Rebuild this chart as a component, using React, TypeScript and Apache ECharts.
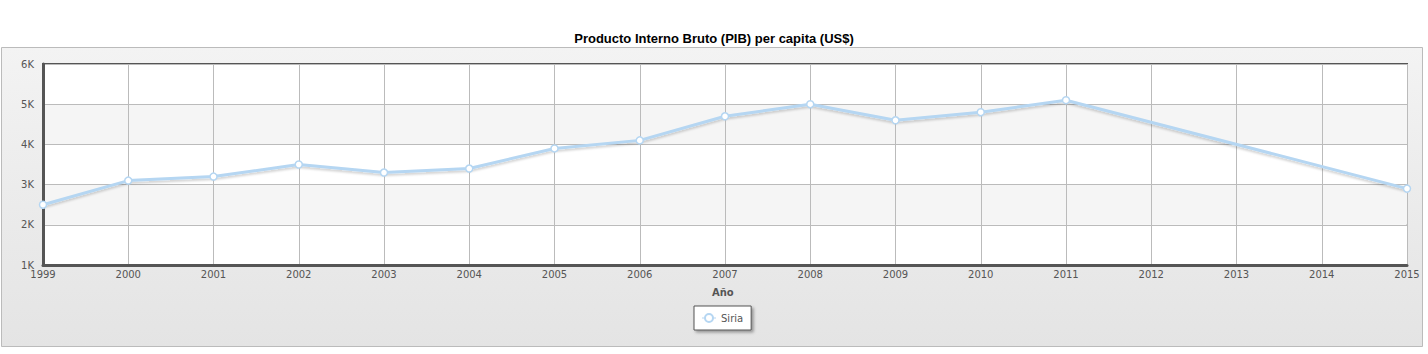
import React, { useEffect, useRef } from "react";
import * as echarts from "echarts";

const years = ["1999","2000","2001","2002","2003","2004","2005","2006","2007","2008","2009","2010","2011","2012","2013","2014","2015"];
const siria: (number | null)[] = [2500, 3100, 3200, 3500, 3300, 3400, 3900, 4100, 4700, 5000, 4600, 4800, 5100, null, null, null, 2900];
const titleText = "Producto Interno Bruto (PIB) per capita (US$)";
const xName = "Año";
const seriesName = "Siria";

export default function App() {
  const ref = useRef<HTMLDivElement>(null);
  useEffect(() => {
    document.body.style.margin = "0";
    const chart = echarts.init(ref.current!, null, { renderer: "svg" });
    const font = "DejaVu Sans, Verdana, sans-serif";
    const blue = "#b5d6f2";
    const ringIcon =
      "path://M0,4.4 L2.2,4.4 L2.2,5.6 L0,5.6 Z M11.8,4.4 L14,4.4 L14,5.6 L11.8,5.6 Z " +
      "M2,5 A5,5 0 1 1 12,5 A5,5 0 1 1 2,5 Z M4,5 A3,3 0 1 0 10,5 A3,3 0 1 0 4,5 Z";
    chart.setOption({
      animation: false,
      title: {
        text: titleText,
        left: "center",
        top: 27,
        textStyle: { fontFamily: "Liberation Sans, Arial, sans-serif", fontSize: 13, fontWeight: "bold", color: "#000" },
      },
      graphic: [
        {
          type: "rect",
          z: -10,
          silent: true,
          shape: { x: 1.5, y: 47.5, width: 1421, height: 299 },
          style: {
            fill: new echarts.graphic.LinearGradient(0, 0, 0, 1, [
              { offset: 0, color: "#f3f3f3" },
              { offset: 1, color: "#e4e4e4" },
            ]),
            stroke: "#bbbbbb",
            lineWidth: 1,
          },
        },
        {
          type: "text",
          left: 712,
          top: 287,
          style: { text: xName, fontFamily: font, fontSize: 10, fontWeight: "bold", fill: "#555", textAlign: "center" },
        },
      ],
      grid: {
        left: 43,
        right: 21,
        top: 64,
        bottom: 89,
        show: true,
        backgroundColor: "#fff",
        borderColor: "#555",
        borderWidth: 2,
      },
      legend: {
        top: 306,
        left: 694,
        data: [{ name: seriesName, icon: ringIcon }],
        backgroundColor: "#fff",
        borderColor: "#555",
        borderWidth: 1,
        padding: [7, 8, 7, 8],
        itemWidth: 14,
        itemHeight: 10,
        itemGap: 6,
        itemStyle: { color: blue, borderWidth: 0 },
        shadowColor: "rgba(0,0,0,0.35)",
        shadowBlur: 3,
        shadowOffsetX: 2,
        shadowOffsetY: 2,
        textStyle: { fontFamily: font, fontSize: 10, color: "#555" },
      },
      xAxis: {
        type: "category",
        data: years,
        boundaryGap: false,
        axisLine: { show: true, lineStyle: { color: "#555", width: 3 } },
        axisTick: { show: false },
        axisLabel: { fontFamily: font, fontSize: 10, color: "#555", margin: 4 },
        splitLine: { show: true, lineStyle: { color: "#bbb", width: 1 } },
      },
      yAxis: {
        type: "value",
        min: 1000,
        max: 6000,
        interval: 1000,
        axisLine: { show: true, lineStyle: { color: "#555", width: 3 } },
        axisTick: { show: false },
        axisLabel: {
          fontFamily: font,
          fontSize: 10,
          color: "#555",
          margin: 9,
          formatter: (v: number) => v / 1000 + "K",
        },
        splitLine: { show: true, lineStyle: { color: "#bbb", width: 1 } },
        splitArea: { show: true, areaStyle: { color: ["#ffffff", "#f5f5f5"] } },
      },
      series: [
        {
          name: seriesName,
          type: "line",
          data: siria,
          connectNulls: true,
          symbol: "circle",
          symbolSize: 7,
          showAllSymbol: true,
          itemStyle: { color: "#fff", borderColor: blue, borderWidth: 1.5 },
          lineStyle: {
            color: blue,
            width: 3,
            shadowColor: "rgba(0,0,0,0.18)",
            shadowBlur: 2,
            shadowOffsetY: 2,
          },
        },
      ],
    });
    return () => chart.dispose();
  }, []);
  return <div ref={ref} style={{ width: 1428, height: 354 }} />;
}
